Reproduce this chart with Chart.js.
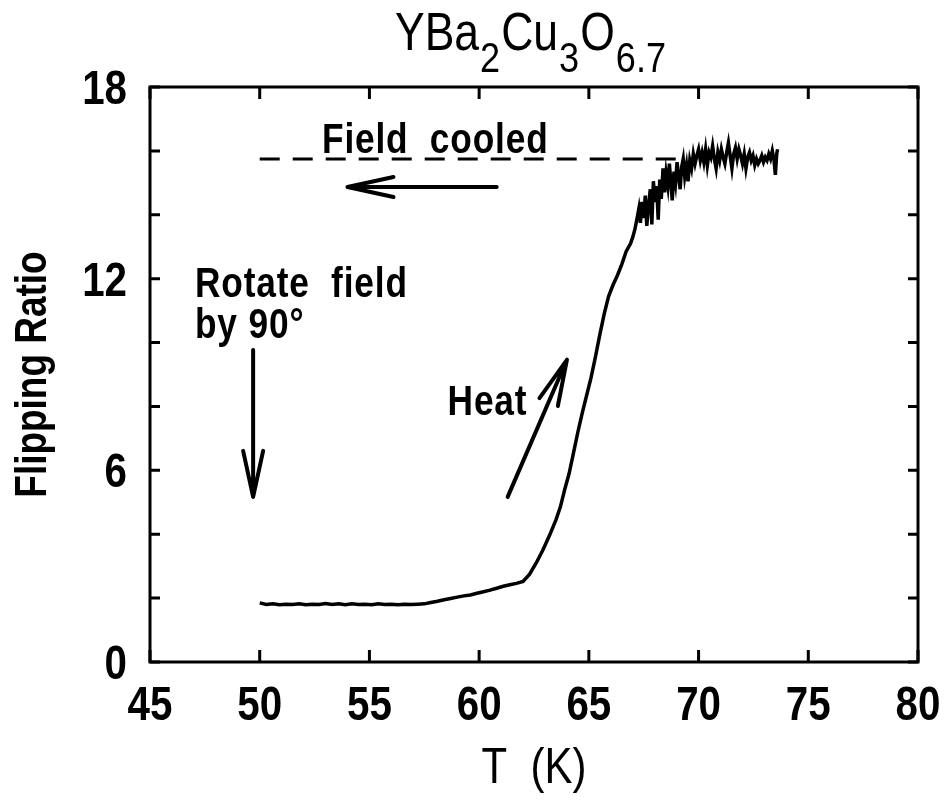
<!DOCTYPE html>
<html>
<head>
<meta charset="utf-8">
<script src="https://cdn.jsdelivr.net/npm/chart.js@4.4.1/dist/chart.umd.min.js"></script>
<style>
  html, body { margin: 0; padding: 0; background: #fff; }
  #grafico { display: block; }
</style>
</head>
<body>
<canvas id="grafico" width="949" height="801"></canvas>
<script>
// Datos: temperatura (K) y razón de flipping
const temperatura = [
  50.0, 50.3, 50.6, 50.9, 51.2, 51.5, 51.8, 52.1, 52.4, 52.7,
  53.0, 53.3, 53.6, 53.9, 54.2, 54.5, 54.8, 55.1, 55.4, 55.7,
  56.0, 56.3, 56.6, 56.9, 57.2, 57.5, 57.8, 58.1, 58.4, 58.7,
  59.0, 59.3, 59.6, 59.9, 60.2, 60.5, 60.8, 61.1, 61.4, 61.7,
  62.0, 62.3, 62.6, 62.9, 63.2, 63.5, 63.7, 63.9, 64.1, 64.3,
  64.5, 64.7, 64.9, 65.1, 65.3, 65.5, 65.7, 65.9, 66.1, 66.3,
  66.5, 66.7, 66.9,
  67.00, 67.10, 67.20, 67.28, 67.35, 67.42, 67.50, 67.57, 67.64, 67.72,
  67.80, 67.87, 67.94, 68.02, 68.09, 68.16, 68.23, 68.30, 68.38, 68.45,
  68.52, 68.60, 68.67, 68.74, 68.80, 68.88, 68.95, 69.02, 69.09, 69.16,
  69.23, 69.30, 69.37, 69.45, 69.52, 69.60, 69.68, 69.76, 69.84, 69.92,
  70.00, 70.08, 70.16, 70.24, 70.32, 70.40, 70.48, 70.56, 70.64, 70.72,
  70.80, 70.88, 70.96, 71.04, 71.12, 71.20, 71.28, 71.36, 71.44, 71.52,
  71.60, 71.68, 71.76, 71.84, 71.92, 72.00, 72.08, 72.16, 72.24, 72.32,
  72.40, 72.48, 72.56, 72.64, 72.72, 72.80, 72.88, 72.96, 73.04, 73.12,
  73.20, 73.28, 73.36, 73.44, 73.50, 73.56, 73.60
];
const razonFlipping = [
  1.85, 1.80, 1.82, 1.79, 1.81, 1.80, 1.82, 1.79, 1.81, 1.80,
  1.83, 1.80, 1.82, 1.79, 1.82, 1.80, 1.81, 1.79, 1.82, 1.80,
  1.81, 1.79, 1.81, 1.80, 1.81, 1.82, 1.86, 1.90, 1.95, 1.99,
  2.03, 2.07, 2.10, 2.15, 2.20, 2.25, 2.31, 2.37, 2.42, 2.46,
  2.52, 2.75, 3.10, 3.50, 3.95, 4.45, 4.85, 5.40, 5.90, 6.55,
  7.20, 7.80, 8.35, 8.90, 9.55, 10.25, 10.90, 11.45, 11.80, 12.10,
  12.45, 12.85, 13.10,
  13.30, 13.55, 13.90, 14.20, 13.75, 14.40, 13.90, 14.60, 13.65, 14.30,
  14.80, 13.70, 15.05, 14.40, 14.90, 13.85, 15.10, 14.50, 15.45, 14.70,
  15.30, 14.90, 15.60, 15.00, 14.45, 15.35, 15.00, 15.65, 15.20, 14.80,
  15.50, 15.75, 15.20, 15.55, 15.05, 15.70, 15.45, 15.90, 15.60, 15.85,
  16.05, 15.70, 15.95, 15.65, 16.05, 15.55, 15.95, 15.80, 16.15, 15.75,
  15.45, 15.95, 15.70, 16.05, 15.80, 15.60, 15.95, 16.25, 15.85, 15.45,
  15.90, 16.10, 15.75, 16.05, 15.85, 15.60, 15.90, 15.45, 15.80, 15.95,
  15.70, 15.85, 15.55, 15.75, 15.60, 15.70, 15.85, 15.65, 15.80, 15.70,
  15.90, 15.75, 16.00, 15.70, 15.25, 15.90, 16.05
];

// Línea de "Field cooled"
const campoT = [50.0, 69.5];
const campoNivel = [15.75, 15.75];

// Etiquetas del eje y (los otros ticks van sin número)
const etiquetasY = [0, 6, 12, 18];

// Flechas, en unidades de datos
const flechaDesde = [[60.8, 14.87], [49.7, 9.77], [61.3, 5.17]];
const flechaHasta = [[54.0, 14.87], [49.7, 5.17], [64.0, 9.46]];

// Textos dentro del gráfico
const notas = ['Field  cooled', 'Rotate  field', 'by 90\u00b0', 'Heat'];
const notasT = [58.0, 47.05, 47.05, 62.2];
const notasRazon = [15.94, 11.43, 10.14, 7.73];
const notasAlinear = ['center', 'left', 'left', 'right'];

const fuente = "'Liberation Sans', Arial, sans-serif";
const ANGOSTO = 0.84; // letra angosta como en el original

const puntos = temperatura.map((t, i) => ({ x: t, y: razonFlipping[i] }));
const lineaCampo = campoT.map((t, i) => ({ x: t, y: campoNivel[i] }));

function texto(ctx, txt, x, y, font, align, espacio) {
  ctx.save();
  ctx.font = font;
  ctx.textAlign = align;
  ctx.textBaseline = 'alphabetic';
  ctx.letterSpacing = (espacio || 0) + 'px';
  ctx.translate(x, y);
  ctx.scale(ANGOSTO, 1);
  ctx.fillText(txt, 0, 0);
  ctx.restore();
}

// Marco, ticks hacia adentro, etiquetas, flechas, textos y título
const extras = {
  id: 'extras',
  afterDatasetsDraw(chart) {
    const { ctx, chartArea: a, scales: { x, y } } = chart;
    ctx.save();
    ctx.strokeStyle = '#000';
    ctx.fillStyle = '#000';
    ctx.lineWidth = 3;
    ctx.strokeRect(a.left, a.top, a.right - a.left, a.bottom - a.top);

    ctx.beginPath();
    x.ticks.forEach(t => {
      const px = x.getPixelForValue(t.value);
      ctx.moveTo(px, a.bottom); ctx.lineTo(px, a.bottom - 12);
      ctx.moveTo(px, a.top); ctx.lineTo(px, a.top + 12);
    });
    y.ticks.forEach(t => {
      const py = y.getPixelForValue(t.value);
      ctx.moveTo(a.left, py); ctx.lineTo(a.left + 10, py);
      ctx.moveTo(a.right, py); ctx.lineTo(a.right - 10, py);
    });
    ctx.stroke();

    // etiquetas de los ejes
    const fTick = 'bold 48px ' + fuente;
    x.ticks.forEach(t => {
      texto(ctx, String(t.value), x.getPixelForValue(t.value), a.bottom + 58, fTick, 'center');
    });
    y.ticks.forEach(t => {
      if (!etiquetasY.includes(t.value)) return;
      texto(ctx, String(t.value), a.left - 23, y.getPixelForValue(t.value) + 17, fTick, 'right');
    });
    texto(ctx, 'T  (K)', (a.left + a.right) / 2, 783, '50px ' + fuente, 'center');
    ctx.save();
    ctx.translate(46, (a.top + a.bottom) / 2);
    ctx.rotate(-Math.PI / 2);
    texto(ctx, 'Flipping Ratio', 0, 0, 'bold 44px ' + fuente, 'center');
    ctx.restore();

    // flechas
    ctx.lineWidth = 4;
    ctx.lineCap = 'round';
    flechaDesde.forEach((d, i) => {
      const h = flechaHasta[i];
      const x0 = x.getPixelForValue(d[0]), y0 = y.getPixelForValue(d[1]);
      const x1 = x.getPixelForValue(h[0]), y1 = y.getPixelForValue(h[1]);
      const ang = Math.atan2(y1 - y0, x1 - x0);
      const largo = 46, ancho = 10;
      ctx.beginPath();
      ctx.moveTo(x0, y0); ctx.lineTo(x1, y1);
      for (const s of [-1, 1]) {
        ctx.moveTo(x1, y1);
        ctx.lineTo(x1 - largo * Math.cos(ang) - s * ancho * Math.sin(ang),
                   y1 - largo * Math.sin(ang) + s * ancho * Math.cos(ang));
      }
      ctx.stroke();
    });

    // textos
    notas.forEach((n, i) => {
      texto(ctx, n, x.getPixelForValue(notasT[i]), y.getPixelForValue(notasRazon[i]),
            'bold 42px ' + fuente, notasAlinear[i], 1);
    });

    // título con subíndices
    const partes = [['YBa', 0], ['2', 1], ['Cu', 0], ['3', 1], ['O', 0], ['6.7', 1]];
    const fNormal = '53px ' + fuente, fSub = '43px ' + fuente;
    let total = 0;
    partes.forEach(p => { ctx.font = p[1] ? fSub : fNormal; total += ctx.measureText(p[0]).width * ANGOSTO + 1; });
    let cx = 531 - total / 2;
    partes.forEach(p => {
      const f = p[1] ? fSub : fNormal;
      texto(ctx, p[0], cx, p[1] ? 72 : 50, f, 'left');
      ctx.font = f;
      cx += ctx.measureText(p[0]).width * ANGOSTO + 1;
    });
    ctx.restore();
  }
};

const ctx = document.getElementById('grafico').getContext('2d');
new Chart(ctx, {
  type: 'scatter',
  data: {
    datasets: [
      {
        data: puntos,
        showLine: true,
        borderColor: '#000',
        borderWidth: 3.5,
        pointRadius: 0,
        tension: 0
      },
      {
        data: lineaCampo,
        showLine: true,
        borderColor: '#000',
        borderWidth: 3,
        borderDash: [20, 13],
        pointRadius: 0
      }
    ]
  },
  options: {
    responsive: false,
    animation: false,
    devicePixelRatio: 1,
    layout: { padding: { top: 87, right: 31, left: 0, bottom: 0 } },
    plugins: { legend: { display: false }, tooltip: { enabled: false } },
    scales: {
      x: {
        type: 'linear',
        min: 45, max: 80,
        afterFit: s => { s.height = 139; s.paddingLeft = 0; s.paddingRight = 0; },
        grid: { display: false, drawTicks: false },
        border: { display: false },
        ticks: { stepSize: 5, display: false }
      },
      y: {
        min: 0, max: 18,
        afterFit: s => { s.width = 150; s.paddingTop = 0; s.paddingBottom = 0; },
        grid: { display: false, drawTicks: false },
        border: { display: false },
        ticks: { stepSize: 2, display: false }
      }
    }
  },
  plugins: [extras]
});
</script>
</body>
</html>
